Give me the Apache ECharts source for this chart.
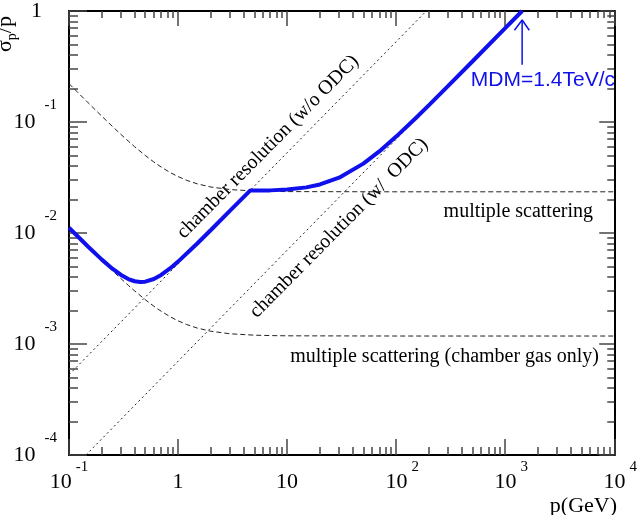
<!DOCTYPE html>
<html>
<head>
<meta charset="utf-8">
<script src="https://cdn.jsdelivr.net/npm/echarts@6.0.0/dist/echarts.min.js"></script>
<style>
  html, body { margin: 0; padding: 0; background: #fff; }
  #chart { width: 640px; height: 515px; }
</style>
</head>
<body>
<div id="chart"></div>
<script>

// data
//-----------------------

// momentum (GeV) for the multiple scattering curves
var pMs = [0.1, 0.12, 0.15, 0.2, 0.25, 0.3, 0.35, 0.4, 0.5, 0.6, 0.7, 0.85, 1, 1.2, 1.5, 2, 3, 5, 7, 10, 100, 10000];
// multiple scattering, full
var msTotal = [0.2217, 0.1852, 0.1488, 0.1127, 0.09125, 0.07715, 0.06721, 0.0599, 0.04996, 0.04361, 0.0393, 0.0350, 0.03222, 0.02983, 0.02772, 0.02596, 0.02462, 0.02391, 0.02371, 0.0236, 0.0235, 0.0235];
// multiple scattering, chamber gas only
var msGas = [0.01113, 0.009298, 0.007473, 0.005658, 0.004582, 0.003874, 0.003375, 0.003008, 0.002509, 0.00219, 0.001973, 0.001757, 0.001618, 0.001498, 0.001392, 0.001303, 0.001236, 0.001201, 0.001191, 0.001185, 0.00118, 0.00118];

// chamber resolution lines (end points)
var pNoOdc = [0.1, 189];
var sigmaNoOdc = [0.000528, 1.0];
var pOdc = [0.143, 1430];
var sigmaOdc = [0.0001, 1.0];

// total resolution (blue)
var pTotal = [0.1, 0.15, 0.2, 0.25, 0.3, 0.35, 0.4, 0.45, 0.5, 0.6, 0.7, 0.85, 1, 1.5, 2, 3, 4.6, 7, 10, 15, 20, 30, 50, 70, 100, 150, 200, 300, 500, 1000, 1430];
var sigmaTotal = [0.01114, 0.007515, 0.005756, 0.004768, 0.004185, 0.003848, 0.003675, 0.003618, 0.003642, 0.003851, 0.00419, 0.00482, 0.005522, 0.008041, 0.01064, 0.01589, 0.0242, 0.02421, 0.02462, 0.02576, 0.02736, 0.03152, 0.04216, 0.05434, 0.07384, 0.1076, 0.14196, 0.2113, 0.3508, 0.7004, 1.0];

// MDM arrow
var pArrow = [1430, 1430];
var sigmaArrow = [0.328, 0.83];
var pArrowHead = [1215, 1430, 1663];
var sigmaArrowHead = [0.671, 0.83, 0.671];

// tick labels
var xMajor = [0.1, 1, 10, 100, 1000, 10000];
var xLabels = [['10', '-1'], ['1', ''], ['10', ''], ['10', '2'], ['10', '3'], ['10', '4']];
var yMajor = [0.0001, 0.001, 0.01, 0.1, 1];
var yLabels = [['10', '-4'], ['10', '-3'], ['10', '-2'], ['10', '-1'], ['1', '']];

var xMin = 0.1, xMax = 10000, yMin = 0.0001, yMax = 1;

var zip = function(xs, ys) {
  return xs.map(function(x, i) { return [x, ys[i]]; });
};

var findLabel = function(ticks, labels, v) {
  var best = 0;
  for (var i = 0; i < ticks.length; i++) {
    if (Math.abs(Math.log10(ticks[i]) - Math.log10(v)) < Math.abs(Math.log10(ticks[best]) - Math.log10(v))) best = i;
  }
  return labels[best];
};

var serif = 'Liberation Serif';
var blue = '#1010ec';
var tickColor = 'rgb(70,70,70)';

// axes
//-----

var frameLine = function() {
  return { show: true, lineStyle: { color: '#000', width: 2 } };
};

var ticks = function(len, minorLen) {
  return {
    axisTick: { show: true, inside: true, length: len, lineStyle: { color: tickColor, width: 1.5 } },
    minorTick: { show: true, splitNumber: 9, length: minorLen, lineStyle: { color: tickColor, width: 1.5 } }
  };
};

var logX = function(pos, len, minorLen, withLabel) {
  var t = ticks(len, minorLen);
  return {
    type: 'log', min: xMin, max: xMax, position: pos,
    axisLine: frameLine(),
    splitLine: { show: false },
    axisTick: t.axisTick,
    minorTick: t.minorTick,
    axisLabel: withLabel ? {
      show: true, margin: 5,
      formatter: function(v) {
        var l = findLabel(xMajor, xLabels, v);
        if (!l[1]) return '{b|' + l[0] + '}';
        if (l[1].charAt(0) === '-') return '{b|' + l[0] + '}{s|' + l[1] + '}';
        return '{c|' + l[0] + '}{s|' + l[1] + '}';
      },
      rich: {
        b: { fontFamily: serif, fontSize: 22, color: '#000', lineHeight: 45 },
        c: { fontFamily: serif, fontSize: 22, color: '#000', lineHeight: 45, padding: [0, 0, 0, 12] },
        s: { fontFamily: serif, fontSize: 15, color: '#000', padding: [0, 0, 30, 4] }
      }
    } : { show: false }
  };
};

var logY = function(pos, len, minorLen, withLabel) {
  var t = ticks(len, minorLen);
  return {
    type: 'log', min: yMin, max: yMax, position: pos,
    axisLine: frameLine(),
    splitLine: { show: false },
    axisTick: t.axisTick,
    minorTick: t.minorTick,
    axisLabel: withLabel ? {
      show: true, margin: 12,
      formatter: function(v) {
        var l = findLabel(yMajor, yLabels, v);
        if (!l[1]) return '{one|' + l[0] + '}';
        return '{b|' + l[0] + '}{s|' + l[1] + '}';
      },
      rich: {
        b: { fontFamily: serif, fontSize: 22, color: '#000', lineHeight: 49 },
        one: { fontFamily: serif, fontSize: 22, color: '#000', padding: [0, 15, 0, 0] },
        s: { fontFamily: serif, fontSize: 15, color: '#000', padding: [0, 0, 34, 9] }
      }
    } : { show: false }
  };
};

var curve = function(name, data, dash) {
  return {
    name: name, type: 'line', data: data,
    showSymbol: false, symbol: 'none', silent: true,
    lineStyle: { color: '#222', width: 1, type: dash }
  };
};

var textEl = function(txt, x, y, rot, size, align, family, color) {
  return {
    type: 'text', x: x, y: y, rotation: rot, silent: true,
    style: {
      text: txt, fontFamily: family || serif, fontSize: size,
      fill: color || '#000', align: align || 'center', verticalAlign: 'middle'
    }
  };
};

// chart
//------

var myChart = echarts.init(document.getElementById('chart'));
var option = {
  animation: false,
  backgroundColor: '#fff',
  grid: { left: 69, right: 21, top: 9, bottom: 60 },
  xAxis: [
    logX('bottom', 16, 8, true),
    logX('top', 15, 7, false)
  ],
  yAxis: [
    logY('left', 18, 9, true),
    logY('right', 15, 7, false)
  ],
  series: [
    curve('multiple scattering', zip(pMs, msTotal), [5, 3]),
    curve('multiple scattering (chamber gas only)', zip(pMs, msGas), [5, 3]),
    curve('chamber resolution (w/o ODC)', zip(pNoOdc, sigmaNoOdc), [2, 3]),
    curve('chamber resolution (w/ ODC)', zip(pOdc, sigmaOdc), [2, 3]),
    {
      name: 'total', type: 'line', data: zip(pTotal, sigmaTotal),
      showSymbol: false, symbol: 'none', silent: true, z: 5,
      lineStyle: { color: blue, width: 4 }
    },
    {
      name: 'arrow', type: 'line', data: zip(pArrow, sigmaArrow),
      showSymbol: false, symbol: 'none', silent: true, z: 5,
      lineStyle: { color: blue, width: 1.5 }
    },
    {
      name: 'arrowHead', type: 'line', data: zip(pArrowHead, sigmaArrowHead),
      showSymbol: false, symbol: 'none', silent: true, z: 5,
      lineStyle: { color: blue, width: 1.5 }
    }
  ],
  graphic: [
    // y title, reads bottom to top
    {
      type: 'text', x: 5, y: 52, rotation: Math.PI / 2, silent: true,
      style: {
        text: '{a|σ}{s|p}{a|/p}', align: 'left', verticalAlign: 'middle',
        rich: {
          a: { fontFamily: serif, fontSize: 22, fill: '#000' },
          s: { fontFamily: serif, fontSize: 14, fill: '#000', padding: [14, 0, 0, 0] }
        }
      }
    },
    textEl('p(GeV)', 617, 506, 0, 22, 'right'),
    textEl('chamber resolution (w/o ODC)', 268, 147, 0.79, 20),
    textEl('chamber resolution (w/  ODC)', 339, 228, 0.79, 20),
    textEl('multiple scattering', 593, 212, 0, 20, 'right'),
    textEl('multiple scattering (chamber gas only)', 599, 357, 0, 20, 'right'),
    textEl('MDM=1.4TeV/c', 615, 80, 0, 21, 'right', 'Liberation Sans', blue)
  ]
};
myChart.setOption(option);

</script>
</body>
</html>
